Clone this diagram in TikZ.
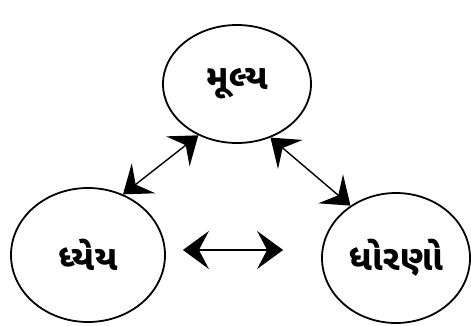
\documentclass[tikz,border=0pt]{standalone}
\usepackage{fontspec}
\newfontfamily\gujfont[Script=Gujarati]{Noto Sans Gujarati UI}
\usetikzlibrary{shapes.geometric,arrows.meta}

\begin{document}
\begin{tikzpicture}[x=1pt,y=-1pt,
    circ/.style={draw,ellipse,line width=1.8pt,inner sep=0pt,font=\gujfont\bfseries\fontsize{35}{40}\selectfont},
    link/.style={line width=1.4pt,{Stealth[length=26pt,width=38pt,inset=10pt]}-{Stealth[length=26pt,width=38pt,inset=10pt]}}]
        \useasboundingbox (0,0) rectangle (471,325);

        % Three ellipses
        \node[circ,minimum width=148pt,minimum height=118pt] (value) at (237,84) {મૂલ્ય};
        \node[circ,minimum width=154pt,minimum height=134pt] (goal) at (88,255) {ધ્યેય};
        \node[circ,minimum width=148pt,minimum height=130pt] (norm) at (396,258) {ધોરણો};

        % Arrows between them
        \draw[link] (goal.60) -- (value.233);
        \draw[link] (value.302) -- (norm.131);
        \draw[link,shorten <=17pt,shorten >=38pt] (goal.east |- 0,250) -- (norm.west |- 0,250);

    \end{tikzpicture}
\end{document}
